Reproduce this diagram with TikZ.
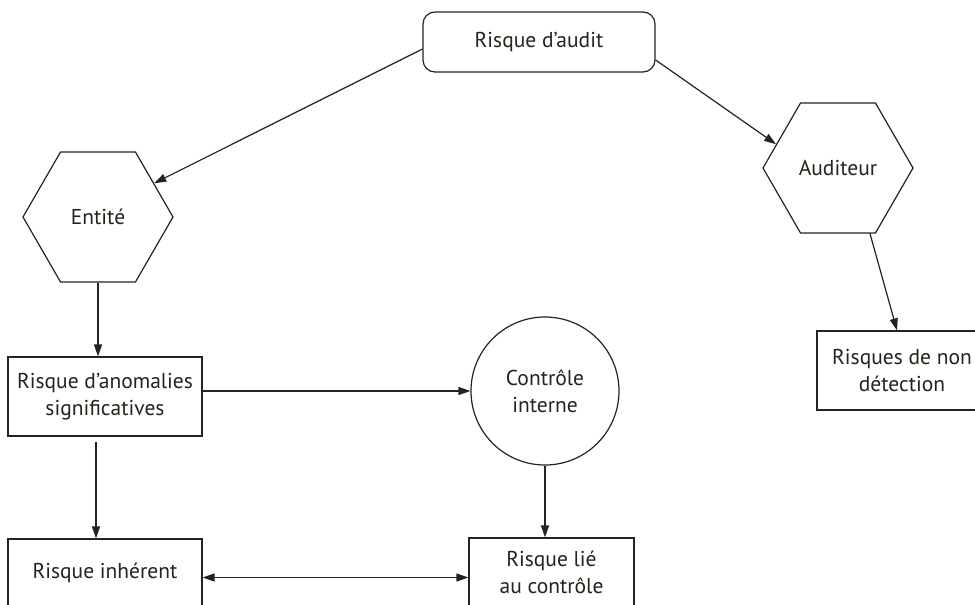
\documentclass[tikz,border=0pt]{standalone}
\usepackage{fontspec}
\setmainfont{PT Sans}
\usetikzlibrary{shapes.geometric,arrows.meta,calc}
\definecolor{ink}{RGB}{40,34,28}
\begin{document}
\begin{tikzpicture}[x=1pt,y=-1pt,
  font=\fontsize{21.5}{27}\selectfont,
  every node/.style={text=ink},
  line/.style={draw=ink,line width=1.2pt},
  arr/.style={line,-{Triangle[length=12pt,width=8pt]}},
  darr/.style={line,{Triangle[length=12pt,width=8pt]}-{Triangle[length=12pt,width=8pt]}},
  box/.style={draw=ink,line width=1.2pt,rectangle,inner sep=0pt,align=center},
  hexa/.style={draw=ink,line width=1.2pt,regular polygon,regular polygon sides=6,minimum size=150pt,inner sep=0pt},
  rond/.style={draw=ink,line width=1.2pt,circle,minimum size=148pt,inner sep=0pt,align=center}]
\clip (0,0) rectangle (975,605);
\fill[white] (0,0) rectangle (975,605);

\node[box,rounded corners=12pt,minimum width=232pt,minimum height=60pt] (audit) at (539,42) {Risque d’audit};
\node[hexa] (entite) at (98,217) {Entité};
\node[hexa] (auditeur) at (838,168) {Auditeur};
\node[box,minimum width=170pt,minimum height=79pt] (nondet) at (902,370.5) {Risques de non\\détection};
\node[box,minimum width=194pt,minimum height=79pt] (anomal) at (105,396.5) {Risque d’anomalies\\significatives};
\node[rond] (controle) at (545,391) {Contrôle\\interne};
\node[box,minimum width=165pt,minimum height=68pt] (lie) at (551.5,572) {Risque lié\\au contrôle};
\node[box,minimum width=194pt,minimum height=67pt] (inherent) at (105,572.5) {Risque inhérent};

\draw[arr] ([yshift=-7pt]audit.west) -- (entite.31);
\draw[arr] ([yshift=-18pt]audit.east) -- (auditeur.159);
\draw[arr] (auditeur.-64) -- ([xshift=-5pt]nondet.north);
\draw[arr] (entite.south) -- (entite.south |- anomal.north);
\draw[arr,shorten <=5pt] ([xshift=-9pt]anomal.south) -- ([xshift=-9pt]inherent.north);
\draw[arr] (anomal.east |- controle.west) -- (controle.west);
\draw[arr] (controle.south) -- (controle.south |- lie.north);
\draw[darr] ([yshift=-5pt]inherent.east) -- ([yshift=-5pt]inherent.east -| lie.west);
\end{tikzpicture}
\end{document}
